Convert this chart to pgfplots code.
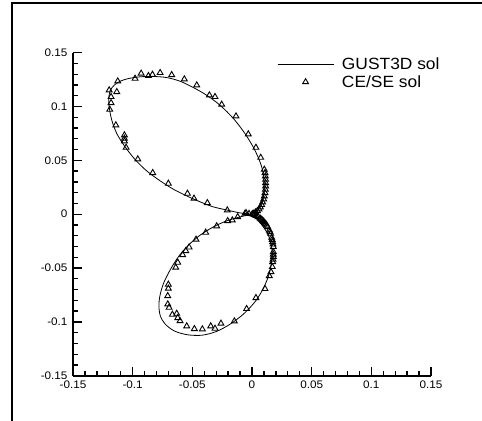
\documentclass[border=0pt]{standalone}
\usepackage{pgfplots}
\pgfplotsset{compat=1.18}
\usepackage{fontspec}
\setmainfont{Liberation Sans}[FakeStretch=1.07]
\pgfplotsset{
  linelegend/.style={legend image code/.code={\draw[##1] (0bp,0bp) -- (56bp,0bp);}},
  marklegend/.style={legend image code/.code={\draw[mark repeat=1,mark phase=1,##1] plot coordinates {(28bp,0bp)};}},
}
\begin{document}
\begin{tikzpicture}
\useasboundingbox (0bp,0bp) rectangle (482bp,421bp);
\draw[line width=2bp] (12bp,-2bp) -- (12bp,418.3bp) -- (484bp,418.3bp);
\begin{axis}[
  at={(73bp,45.3bp)}, anchor=south west,
  scale only axis, width=358bp, height=323bp,
  xmin=-0.15, xmax=0.15, ymin=-0.15, ymax=0.15,
  axis x line=bottom, axis y line=left,
  axis line style={-, line width=1.6bp},
  xtick={-0.15,-0.1,-0.05,0,0.05,0.1,0.15},
  ytick={-0.15,-0.1,-0.05,0,0.05,0.1,0.15},
  xticklabels={-0.15,-0.1,-0.05,0,0.05,0.1,0.15},
  yticklabels={-0.15,-0.1,-0.05,0,0.05,0.1,0.15},
  minor x tick num=4, minor y tick num=4,
  tick align=inside,
  major tick length=8.5bp, minor tick length=4.5bp,
  tick style={black, line width=1.3bp},
  tick label style={font=\fontsize{11}{13}\selectfont},
  xticklabel style={yshift=-2bp},
  yticklabel style={xshift=-2bp},
  legend style={draw=none, fill=none, inner sep=0pt,
    at={(rel axis cs:0.5698,0.99)}, anchor=north west,
    font=\fontsize{16.3}{16}\selectfont,
    column sep=6bp, row sep=0bp},
  legend cell align=left,
  clip=false,
]
\addplot[black, line width=0.8bp, smooth, linelegend] coordinates {
(0,0) (-0.0100,0.0012) (-0.0204,0.0037) (-0.0324,0.0068) (-0.0435,0.0115)
(-0.0547,0.0170) (-0.0659,0.0232) (-0.0770,0.0310) (-0.0882,0.0402)
(-0.0980,0.0508) (-0.1063,0.0625) (-0.1133,0.0749) (-0.1175,0.0873)
(-0.1197,0.0997) (-0.1200,0.1074) (-0.1189,0.1146) (-0.1155,0.1198)
(-0.1105,0.1235) (-0.1035,0.1260) (-0.0938,0.1276) (-0.0826,0.1279)
(-0.0714,0.1269) (-0.0603,0.1235) (-0.0491,0.1176) (-0.0380,0.1105)
(-0.0268,0.1012) (-0.0156,0.0889) (-0.0059,0.0749) (0.0017,0.0610)
(0.0067,0.0486) (0.0095,0.0378) (0.0103,0.0254) (0.0095,0.0146)
(0.0067,0.0068) (0.0033,0.0022) (0,0)
};
\addlegendentry{GUST3D sol}
\addplot[black, line width=0.8bp, smooth, forget plot] coordinates {
(0,0) (-0.0100,-0.0025) (-0.0212,-0.0062) (-0.0324,-0.0118) (-0.0435,-0.0195)
(-0.0533,-0.0288) (-0.0617,-0.0396) (-0.0687,-0.0520) (-0.0742,-0.0644)
(-0.0772,-0.0760) (-0.0780,-0.0855) (-0.0768,-0.0945) (-0.0728,-0.1020)
(-0.0650,-0.1085) (-0.0540,-0.1120) (-0.0420,-0.1124) (-0.0300,-0.1090)
(-0.0184,-0.1022) (-0.0073,-0.0929) (0.0025,-0.0814) (0.0095,-0.0690)
(0.0145,-0.0551) (0.0165,-0.0427) (0.0165,-0.0303) (0.0137,-0.0195)
(0.0095,-0.0118) (0.0045,-0.0050) (0,0)
};
\addplot[black, only marks, mark=triangle, mark size=3.4bp,
  mark options={line width=0.9bp}, marklegend] coordinates {
(-0.1197,0.1152) (-0.1125,0.1235) (-0.1133,0.1136) (-0.1181,0.1090)
(-0.1181,0.1034) (-0.1192,0.0972) (-0.1141,0.0827) (-0.1069,0.0734)
(-0.1069,0.0703) (-0.1069,0.0678) (-0.1055,0.0619) (-0.0957,0.0511)
(-0.0980,0.1260) (-0.0929,0.1307) (-0.0868,0.1285) (-0.0834,0.1297)
(-0.0770,0.1313) (-0.0673,0.1294) (-0.0567,0.1254) (-0.0463,0.1198)
(-0.0357,0.1105) (-0.0310,0.1090) (-0.0254,0.1019) (-0.0134,0.0910)
(-0.0031,0.0743) (0.0033,0.0619) (0.0073,0.0526)
(0.0103,0.0415) (0.0109,0.0384) (0.0112,0.0353) (0.0114,0.0322)
(0.0114,0.0291) (0.0114,0.0260) (0.0112,0.0229) (0.0109,0.0198)
(0.0103,0.0167) (0.0098,0.0139) (0.0089,0.0111) (0.0081,0.0087)
(0.0070,0.0065) (0.0059,0.0046) (0.0045,0.0031) (0.0031,0.0019)
(0.0017,0.0009) (0.0003,0.0003)
(-0.0832,0.0384) (-0.0701,0.0285) (-0.0541,0.0192) (-0.0486,0.0146)
(-0.0374,0.0105) (-0.0207,0.0037) (-0.0050,0.0012) (-0.0025,0.0004)
(-0.0059,0.0006) (-0.0120,-0.0025) (-0.0165,-0.0056) (-0.0204,-0.0062)
(-0.0296,-0.0111) (-0.0388,-0.0170) (-0.0469,-0.0235) (-0.0527,-0.0307)
(-0.0555,-0.0341) (-0.0581,-0.0378) (-0.0622,-0.0449) (-0.0639,-0.0495)
(-0.0701,-0.0653) (-0.0701,-0.0690) (-0.0706,-0.0759) (-0.0706,-0.0836)
(-0.0695,-0.0867) (-0.0667,-0.0932) (-0.0631,-0.0923) (-0.0622,-0.0963)
(-0.0603,-0.0991) (-0.0547,-0.1040) (-0.0483,-0.1065) (-0.0416,-0.1068)
(-0.0346,-0.1040) (-0.0310,-0.1062) (-0.0260,-0.1015) (-0.0148,-0.0994)
(-0.0045,-0.0879) (0.0033,-0.0777) (0.0109,-0.0693) (0.0145,-0.0573)
(0.0159,-0.0536) (0.0170,-0.0489) (0.0173,-0.0443) (0.0179,-0.0396)
(0.0179,-0.0350) (0.0179,-0.0303) (0.0173,-0.0257) (0.0165,-0.0217)
(0.0156,-0.0180) (0.0145,-0.0149) (0.0131,-0.0118) (0.0117,-0.0093)
(0.0100,-0.0071) (0.0084,-0.0053) (0.0067,-0.0037) (0.0050,-0.0025)
(0.0033,-0.0015) (0.0017,-0.0006) (0.0176,-0.0420) (0.0178,-0.0373)
(0.0176,-0.0280) (0.0169,-0.0237) (0.0151,-0.0165) (0.0124,-0.0105)
(0.0108,-0.0082) (0.0092,-0.0062) (0.0075,-0.0045) (0.0010,0.0002)
};
\addlegendentry{CE/SE sol}
\end{axis}
\end{tikzpicture}
\end{document}
